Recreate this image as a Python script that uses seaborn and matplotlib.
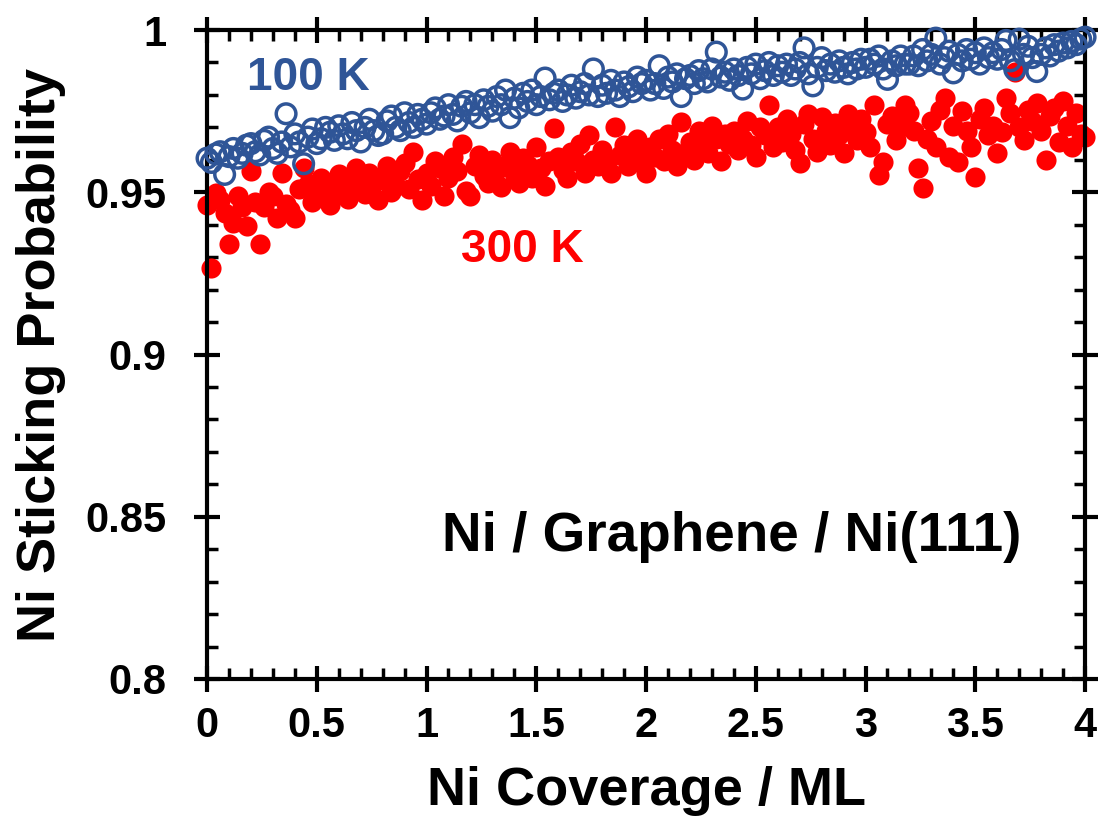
import numpy as np
import pandas as pd
import matplotlib
matplotlib.use("Agg")
import matplotlib.pyplot as plt
from matplotlib.ticker import MultipleLocator, FuncFormatter
import seaborn as sns

# ---------------- data ----------------
coverage_step = 0.02
coverage = np.round(np.arange(0, 4.0 + 1e-9, coverage_step), 3)

stick_100K = [
    0.9605, 0.9592, 0.9618, 0.9625, 0.9555, 0.9610, 0.9635, 0.9605, 0.9620, 0.9645,
    0.9650, 0.9625, 0.9615, 0.9660, 0.9670, 0.9635, 0.9620, 0.9655, 0.9742, 0.9640,
    0.9680, 0.9655, 0.9588, 0.9670, 0.9695, 0.9650, 0.9665, 0.9700, 0.9685, 0.9660,
    0.9705, 0.9680, 0.9665, 0.9715, 0.9690, 0.9655, 0.9700, 0.9725, 0.9690, 0.9675,
    0.9680, 0.9720, 0.9735, 0.9700, 0.9690, 0.9745, 0.9715, 0.9700, 0.9740, 0.9725,
    0.9710, 0.9745, 0.9760, 0.9725, 0.9735, 0.9770, 0.9740, 0.9720, 0.9765, 0.9780,
    0.9745, 0.9770, 0.9730, 0.9785, 0.9765, 0.9750, 0.9795, 0.9770, 0.9815, 0.9730,
    0.9790, 0.9760, 0.9805, 0.9780, 0.9815, 0.9770, 0.9795, 0.9852, 0.9785, 0.9805,
    0.9815, 0.9780, 0.9800, 0.9830, 0.9790, 0.9810, 0.9835, 0.9800, 0.9880, 0.9795,
    0.9830, 0.9805, 0.9845, 0.9815, 0.9795, 0.9840, 0.9825, 0.9810, 0.9855, 0.9835,
    0.9845, 0.9815, 0.9835, 0.9890, 0.9820, 0.9855, 0.9840, 0.9865, 0.9795, 0.9850,
    0.9860, 0.9835, 0.9875, 0.9850, 0.9840, 0.9880, 0.9932, 0.9855, 0.9870, 0.9845,
    0.9880, 0.9860, 0.9818, 0.9885, 0.9865, 0.9895, 0.9850, 0.9875, 0.9900, 0.9860,
    0.9890, 0.9870, 0.9895, 0.9860, 0.9880, 0.9900, 0.9945, 0.9865, 0.9828, 0.9885,
    0.9915, 0.9875, 0.9895, 0.9870, 0.9905, 0.9885, 0.9865, 0.9900, 0.9880, 0.9910,
    0.9885, 0.9910, 0.9895, 0.9920, 0.9880, 0.9848, 0.9905, 0.9890, 0.9920, 0.9895,
    0.9895, 0.9920, 0.9890, 0.9940, 0.9905, 0.9925, 0.9975, 0.9895, 0.9915, 0.9935,
    0.9868, 0.9925, 0.9905, 0.9940, 0.9910, 0.9930, 0.9895, 0.9945, 0.9915, 0.9930,
    0.9910, 0.9940, 0.9968, 0.9905, 0.9878, 0.9972, 0.9925, 0.9950, 0.9915, 0.9872,
    0.9925, 0.9945, 0.9920, 0.9955, 0.9935, 0.9960, 0.9945, 0.9965, 0.9955, 0.9972,
    0.9978,
]

stick_300K = [
    0.9460, 0.9268, 0.9498, 0.9475, 0.9435, 0.9340, 0.9405, 0.9490, 0.9455, 0.9395,
    0.9565, 0.9470, 0.9340, 0.9455, 0.9500, 0.9490, 0.9420, 0.9560, 0.9465, 0.9445,
    0.9420, 0.9510, 0.9575, 0.9525, 0.9470, 0.9490, 0.9545, 0.9500, 0.9460, 0.9530,
    0.9555, 0.9505, 0.9480, 0.9540, 0.9575, 0.9515, 0.9495, 0.9560, 0.9530, 0.9475,
    0.9545, 0.9580, 0.9500, 0.9520, 0.9565, 0.9590, 0.9510, 0.9625, 0.9540, 0.9476,
    0.9560, 0.9520, 0.9595, 0.9575, 0.9490, 0.9545, 0.9610, 0.9565, 0.9650, 0.9505,
    0.9490, 0.9580, 0.9615, 0.9550, 0.9530, 0.9600, 0.9570, 0.9515, 0.9585, 0.9625,
    0.9560, 0.9530, 0.9605, 0.9585, 0.9545, 0.9640, 0.9575, 0.9520, 0.9595, 0.9698,
    0.9610, 0.9570, 0.9545, 0.9625, 0.9595, 0.9650, 0.9560, 0.9677, 0.9600, 0.9580,
    0.9630, 0.9595, 0.9560, 0.9700, 0.9615, 0.9645, 0.9580, 0.9620, 0.9665, 0.9590,
    0.9560, 0.9640, 0.9610, 0.9665, 0.9595, 0.9680, 0.9630, 0.9580, 0.9717, 0.9625,
    0.9655, 0.9600, 0.9690, 0.9640, 0.9620, 0.9705, 0.9665, 0.9595, 0.9680, 0.9650,
    0.9690, 0.9630, 0.9665, 0.9720, 0.9645, 0.9610, 0.9700, 0.9675, 0.9769, 0.9640,
    0.9700, 0.9655, 0.9725, 0.9680, 0.9630, 0.9590, 0.9710, 0.9740, 0.9665, 0.9625,
    0.9732, 0.9690, 0.9645, 0.9715, 0.9675, 0.9620, 0.9740, 0.9695, 0.9660, 0.9725,
    0.9685, 0.9640, 0.9770, 0.9553, 0.9593, 0.9710, 0.9735, 0.9660, 0.9700, 0.9770,
    0.9745, 0.9690, 0.9575, 0.9513, 0.9665, 0.9720, 0.9640, 0.9755, 0.9790, 0.9610,
    0.9705, 0.9593, 0.9750, 0.9690, 0.9640, 0.9547, 0.9725, 0.9760, 0.9675, 0.9705,
    0.9620, 0.9685, 0.9790, 0.9745, 0.9870, 0.9700, 0.9660, 0.9755, 0.9720, 0.9775,
    0.9690, 0.9600, 0.9735, 0.9760, 0.9655, 0.9780, 0.9705, 0.9640, 0.9745, 0.9680,
    0.9670,
]

x_ticks = [0, 0.5, 1, 1.5, 2, 2.5, 3, 3.5, 4]
y_ticks = [0.8, 0.85, 0.9, 0.95, 1.0]

label_100K = "100 K"
label_300K = "300 K"
system_label = "Ni / Graphene / Ni(111)"
x_label = "Ni Coverage / ML"
y_label = "Ni Sticking Probability"

blue = "#2F5597"
red = "#FF0000"

df100 = pd.DataFrame({"coverage": coverage, "p": stick_100K})
df300 = pd.DataFrame({"coverage": coverage, "p": stick_300K})

# ---------------- style ----------------
sns.set_style("white")
plt.rcParams["font.family"] = ["Liberation Sans", "DejaVu Sans"]
plt.rcParams["font.weight"] = "bold"
plt.rcParams["text.color"] = "black"
plt.rcParams["axes.labelcolor"] = "black"
plt.rcParams["xtick.color"] = "black"
plt.rcParams["ytick.color"] = "black"

fig = plt.figure(figsize=(10.99, 8.23), dpi=100)
ax = fig.add_axes([0.1884, 0.175, 0.7989, 0.7885])

sns.scatterplot(data=df300, x="coverage", y="p", color=red, s=210,
                linewidth=0, marker="o", ax=ax, zorder=2, clip_on=False)
sns.scatterplot(data=df100, x="coverage", y="p", color=blue, s=200,
                marker="o", ax=ax, zorder=3, clip_on=False)
coll = ax.collections[-1]
coll.set_facecolor("none")
coll.set_edgecolor(blue)
coll.set_linewidth(2.5)

ax.set_xlim(0, 4)
ax.set_ylim(0.8, 1.0)
ax.set_xticks(x_ticks)
ax.set_yticks(y_ticks)
ax.xaxis.set_major_formatter(FuncFormatter(lambda v, p: f"{v:g}"))
ax.yaxis.set_major_formatter(FuncFormatter(lambda v, p: f"{v:g}"))
ax.xaxis.set_minor_locator(MultipleLocator(0.1))
ax.yaxis.set_minor_locator(MultipleLocator(0.01))

for sp in ax.spines.values():
    sp.set_visible(True)
    sp.set_linewidth(3)
    sp.set_color("black")

ax.tick_params(which="major", direction="inout", length=19, width=3,
               top=True, right=True, bottom=True, left=True,
               labelsize=30, colors="black")
ax.tick_params(axis="y", which="major", pad=20)
ax.tick_params(axis="x", which="major", pad=10)
ax.tick_params(which="minor", direction="in", length=8, width=2.5,
               top=True, right=True, bottom=True, left=True)
for lab in ax.get_xticklabels() + ax.get_yticklabels():
    lab.set_fontweight("bold")

ax.set_xlabel(x_label, fontsize=39, fontweight="bold", labelpad=14, color="black")
ax.set_ylabel(y_label, fontsize=39, fontweight="bold", labelpad=14, color="black")

ax.text(0.46, 0.9852, label_100K, color=blue, fontsize=33, fontweight="bold",
        ha="center", va="center")
ax.text(1.435, 0.9322, label_300K, color=red, fontsize=33, fontweight="bold",
        ha="center", va="center")
ax.text(2.39, 0.8438, system_label, color="black", fontsize=39.5, fontweight="bold",
        ha="center", va="center")

fig.savefig("out.png", dpi=100)
